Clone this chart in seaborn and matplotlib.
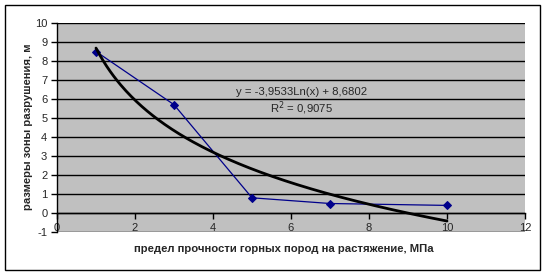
import numpy as np
import pandas as pd
import matplotlib
matplotlib.use("Agg")
import matplotlib.pyplot as plt
import seaborn as sns
from matplotlib.patches import Rectangle

# data
x_vals = [1, 3, 5, 7, 10]
y_vals = [8.5, 5.7, 0.8, 0.5, 0.4]
trend_a = -3.9533
trend_b = 8.6802
r2_text = "0,9075"
x_ticks = [0, 2, 4, 6, 8, 10, 12]
y_ticks = [-1, 0, 1, 2, 3, 4, 5, 6, 7, 8, 9, 10]
xlabel = "предел прочности горных пород на растяжение, МПа"
ylabel = "размеры зоны разрушения, м"

sns.set_theme(style="white")
plt.rcParams['font.family'] = ['Liberation Sans', 'DejaVu Sans']

fig = plt.figure(figsize=(5.45, 2.75), dpi=100)
ax = fig.add_axes([57/545, 1-232/275, (525-57)/545, (232-23)/275])
ax.set_facecolor("#C0C0C0")

df = pd.DataFrame({"x": x_vals, "y": y_vals})
tx = np.linspace(min(x_vals), max(x_vals), 200)
tdf = pd.DataFrame({"x": tx, "y": trend_a*np.log(tx) + trend_b})

for yt in y_ticks:
    ax.axhline(yt, color="black", lw=1.0, zorder=1)

sns.lineplot(data=df, x="x", y="y", ax=ax, color="#00008B", lw=0.9,
             marker="D", markersize=4.5, markeredgecolor="#00008B", zorder=3)
sns.lineplot(data=tdf, x="x", y="y", ax=ax, color="black", lw=2.0, zorder=4)

ax.set_xlim(0, 12)
ax.set_ylim(-1, 10)
ax.set_xticks(x_ticks)
ax.set_yticks(y_ticks)
ax.set_xticklabels([str(v) for v in x_ticks])
ax.set_yticklabels([str(v) for v in y_ticks])
ax.spines['bottom'].set_position(('data', 0))
for s in ['top', 'right']:
    ax.spines[s].set_visible(False)
ax.spines['left'].set_color("black")
ax.spines['bottom'].set_color("black")
ax.spines['left'].set_linewidth(1.0)
ax.spines['bottom'].set_linewidth(1.0)
ax.tick_params(axis='x', direction='out', length=4, width=1, color='black',
               pad=3, labelsize=8, bottom=True)
ax.tick_params(axis='y', direction='out', length=4, width=1, color='black',
               pad=3, labelsize=8, left=True)
ax.set_xlabel("")
ax.set_ylabel("")

fig.text(284/545, 1-249/275, xlabel, ha='center', va='center',
         fontsize=8.1, fontweight='bold')
fig.text(28/545, 1-127/275, ylabel, ha='center', va='center',
         rotation=90, fontsize=8.1, fontweight='bold')

ax.text(6.26, 6.35, "y = -3,9533Ln(x) + 8,6802", ha='center', va='center', fontsize=8.2)
ax.text(6.26, 5.5, "R$^2$ = " + r2_text, ha='center', va='center', fontsize=8.2)

fig.patches.append(Rectangle((5/545, 1-270/275), 535/545, 265/275,
                             transform=fig.transFigure, fill=False,
                             edgecolor='black', lw=1.0))

fig.savefig("out.png", dpi=100, facecolor="white")
